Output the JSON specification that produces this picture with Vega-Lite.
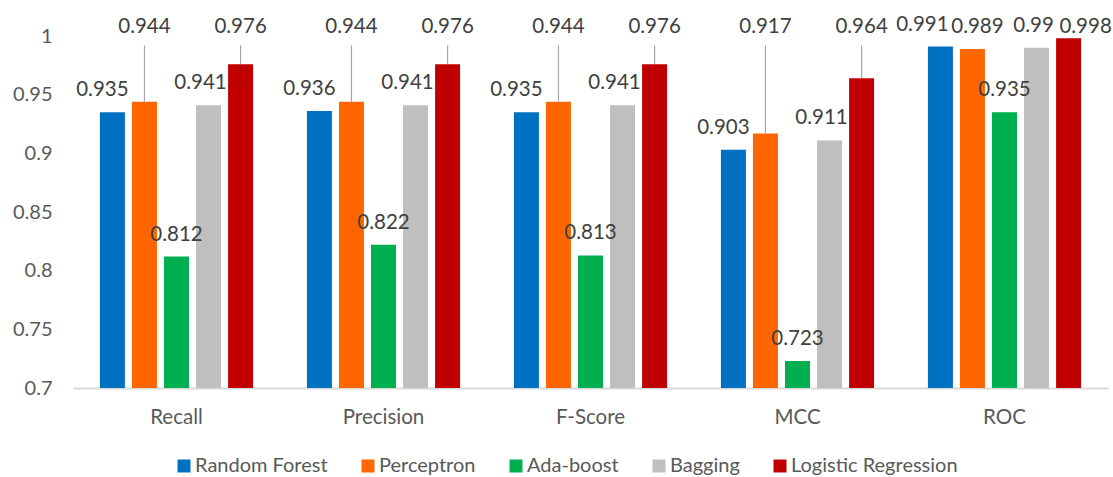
{
  "$schema": "https://vega.github.io/schema/vega-lite/v6.json",
  "width": 1035,
  "height": 352,
  "autosize": {"type": "none"},
  "padding": {"left": 73, "top": 36, "right": 5, "bottom": 89},
  "background": "white",
  "config": {
    "view": {"stroke": null},
    "font": "Lato",
    "text": {"font": "Lato"},
    "axis": {"labelFont": "Lato", "labelFontSize": 20.5, "labelColor": "#595959", "grid": false, "ticks": false, "tickSize": 0, "title": null},
    "legend": {"labelFont": "Lato", "labelFontSize": 20, "labelColor": "#595959"}
  },
  "data": {
    "values": [
      {"metric": "Recall", "model": "Random Forest", "value": 0.935},
      {"metric": "Recall", "model": "Perceptron", "value": 0.944},
      {"metric": "Recall", "model": "Ada-boost", "value": 0.812},
      {"metric": "Recall", "model": "Bagging", "value": 0.941},
      {"metric": "Recall", "model": "Logistic Regression", "value": 0.976},
      {"metric": "Precision", "model": "Random Forest", "value": 0.936},
      {"metric": "Precision", "model": "Perceptron", "value": 0.944},
      {"metric": "Precision", "model": "Ada-boost", "value": 0.822},
      {"metric": "Precision", "model": "Bagging", "value": 0.941},
      {"metric": "Precision", "model": "Logistic Regression", "value": 0.976},
      {"metric": "F-Score", "model": "Random Forest", "value": 0.935},
      {"metric": "F-Score", "model": "Perceptron", "value": 0.944},
      {"metric": "F-Score", "model": "Ada-boost", "value": 0.813},
      {"metric": "F-Score", "model": "Bagging", "value": 0.941},
      {"metric": "F-Score", "model": "Logistic Regression", "value": 0.976},
      {"metric": "MCC", "model": "Random Forest", "value": 0.903},
      {"metric": "MCC", "model": "Perceptron", "value": 0.917},
      {"metric": "MCC", "model": "Ada-boost", "value": 0.723},
      {"metric": "MCC", "model": "Bagging", "value": 0.911},
      {"metric": "MCC", "model": "Logistic Regression", "value": 0.964},
      {"metric": "ROC", "model": "Random Forest", "value": 0.991},
      {"metric": "ROC", "model": "Perceptron", "value": 0.989},
      {"metric": "ROC", "model": "Ada-boost", "value": 0.935},
      {"metric": "ROC", "model": "Bagging", "value": 0.99},
      {"metric": "ROC", "model": "Logistic Regression", "value": 0.998}
    ]
  },
  "encoding": {
    "x": {
      "field": "metric", "type": "nominal",
      "sort": ["Recall", "Precision", "F-Score", "MCC", "ROC"],
      "scale": {"paddingInner": 0, "paddingOuter": 0},
      "axis": {"labelAngle": 0, "domainColor": "#d9d9d9", "domainWidth": 2, "labelPadding": 19}
    },
    "xOffset": {
      "field": "model", "type": "nominal",
      "scale": {"domain": ["Random Forest", "Perceptron", "Ada-boost", "Bagging", "Logistic Regression"], "paddingInner": 0.22, "paddingOuter": 0.84}
    }
  },
  "layer": [
    {
      "mark": {"type": "bar"},
      "encoding": {
        "y": {
          "field": "value", "type": "quantitative",
          "scale": {"domain": [0.7, 1], "zero": false, "nice": false},
          "axis": {"values": [0.7, 0.75, 0.8, 0.85, 0.9, 0.95, 1], "format": "~g", "domain": false, "labelPadding": 21, "labelFontSize": 20}
        },
        "y2": {"datum": 0.7},
        "color": {
          "field": "model", "type": "nominal",
          "scale": {"domain": ["Random Forest", "Perceptron", "Ada-boost", "Bagging", "Logistic Regression"], "range": ["#0070C0", "#FF6600", "#00B050", "#BFBFBF", "#C00000"]},
          "legend": {"title": null, "orient": "none", "legendX": 101, "legendY": 420, "direction": "horizontal", "symbolType": "square", "symbolSize": 169, "symbolStrokeWidth": 0, "labelLimit": 300, "columnPadding": 30, "labelOffset": 1}
        }
      }
    },
    {
      "transform": [{"filter": "datum.model !== 'Perceptron' && datum.model !== 'Logistic Regression'"}],
      "mark": {"type": "text", "fontSize": 20.5, "color": "#404040", "baseline": "middle", "dy": -22,
        "dx": {"expr": "datum.metric === 'ROC' ? (datum.model === 'Random Forest' ? -18 : (datum.model === 'Bagging' ? -3 : 0)) : (datum.model === 'Random Forest' ? -10 : (datum.model === 'Bagging' ? -8 : 0))"}},
      "encoding": {
        "y": {"field": "value", "type": "quantitative"},
        "text": {"field": "value", "type": "quantitative", "format": "~g"}
      }
    },
    {
      "transform": [{"filter": "datum.model === 'Perceptron' || datum.model === 'Logistic Regression'"}, {"filter": "datum.value < 0.985"}],
      "mark": {"type": "rule", "color": "#A6A6A6", "strokeWidth": 1.2},
      "encoding": {
        "y": {"field": "value", "type": "quantitative"},
        "y2": {"datum": 0.992}
      }
    },
    {
      "transform": [{"filter": "datum.model === 'Perceptron' || datum.model === 'Logistic Regression'"}],
      "mark": {"type": "text", "fontSize": 20.5, "color": "#404040", "baseline": "middle", "dy": -9,
        "dx": {"expr": "datum.metric === 'ROC' ? (datum.model === 'Perceptron' ? 5 : 17) : 0"}},
      "encoding": {
        "y": {"datum": 1},
        "text": {"field": "value", "type": "quantitative", "format": "~g"}
      }
    }
  ]
}
